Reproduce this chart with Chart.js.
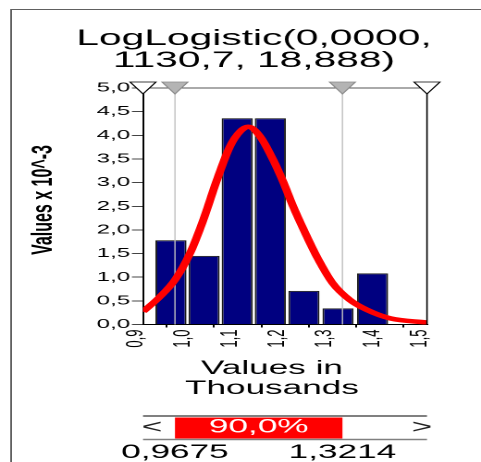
<!DOCTYPE html>
<html>
<head>
<meta charset="utf-8">
<script src="https://cdn.jsdelivr.net/npm/chart.js@4.4.1/dist/chart.umd.min.js"></script>
<style>
  html, body { margin: 0; padding: 0; background: #fff; overflow: hidden; }
  /* the picture is drawn narrow and stretched sideways, like the original */
  #wrap { width: 260px; height: 462px; transform: scaleX(1.85); transform-origin: 0 0; }
</style>
</head>
<body>
<div id="wrap"><canvas id="chart" width="260" height="462"></canvas></div>
<script>
// --- data ---
const titleLines = ['LogLogistic(0,0000,', '1130,7, 18,888)'];
const yAxisTitle = 'Values x 10^-3';
const xAxisTitle = ['Values in', 'Thousands'];
const xTickLabels = ['0,9', '1,0', '1,1', '1,2', '1,3', '1,4', '1,5'];
const yTickLabels = ['0,0', '0,5', '1,0', '1,5', '2,0', '2,5', '3,0', '3,5', '4,0', '4,5', '5,0'];

// histogram bins (centres in thousands) and their density
const binCenters = [0.959, 1.029, 1.099, 1.169, 1.240, 1.312, 1.385];
const binDensity = [1.78, 1.45, 4.36, 4.36, 0.71, 0.34, 1.08];

// fitted curve, points
const curveX = [0.900, 0.935, 0.968, 1.000, 1.027, 1.056, 1.084, 1.105, 1.122, 1.147,
                1.175, 1.196, 1.217, 1.242, 1.268, 1.301, 1.337, 1.373, 1.422, 1.500];
const curveY = [0.27, 0.58, 0.95, 1.52, 2.20, 3.05, 3.77, 4.08, 4.18, 3.98,
                3.48, 3.02, 2.50, 1.95, 1.42, 0.87, 0.52, 0.31, 0.13, 0.04];

// delimiters and the band between them
const markers = [0.9675, 1.3214];
const markerLabels = ['0,9675', '1,3214'];
const bandLabel = '90,0%';

const FONT = '"Liberation Sans", Arial, Helvetica, sans-serif';
Chart.defaults.font.family = FONT;

function tri(ctx, x, fill, stroke) {
  ctx.beginPath();
  ctx.moveTo(x - 7, 82);
  ctx.lineTo(x + 7, 82);
  ctx.lineTo(x, 94);
  ctx.closePath();
  ctx.fillStyle = fill;
  ctx.fill();
  ctx.strokeStyle = stroke;
  ctx.lineWidth = 0.8;
  ctx.stroke();
}

const decor = {
  id: 'decor',
  afterDatasetDraw(chart, args) {
    if (args.index !== 0) return;
    const { ctx, chartArea: a, scales: { x } } = chart;
    ctx.save();
    ctx.strokeStyle = '#c0c0c0';
    ctx.lineWidth = 0.7;
    markers.forEach(v => {
      const px = x.getPixelForValue(v);
      ctx.beginPath(); ctx.moveTo(px, a.top); ctx.lineTo(px, a.bottom); ctx.stroke();
    });
    ctx.restore();
  },
  afterDraw(chart) {
    const { ctx, chartArea: a, scales: { x } } = chart;
    ctx.save();

    // outer frame
    ctx.strokeStyle = '#606060';
    ctx.lineWidth = 1;
    ctx.beginPath(); ctx.moveTo(6, 462); ctx.lineTo(6, 9.5); ctx.lineTo(260, 9.5); ctx.stroke();

    // plot box: grey top, black right
    ctx.strokeStyle = '#555';
    ctx.beginPath(); ctx.moveTo(a.left, a.top); ctx.lineTo(a.right, a.top); ctx.stroke();
    ctx.strokeStyle = '#000';
    ctx.lineWidth = 0.8;
    ctx.beginPath(); ctx.moveTo(a.right, a.top); ctx.lineTo(a.right, a.bottom); ctx.stroke();

    // triangles on top
    tri(ctx, x.getPixelForValue(x.min), '#fff', '#000');
    tri(ctx, x.getPixelForValue(x.max), '#fff', '#000');
    markers.forEach(v => tri(ctx, x.getPixelForValue(v), '#b4b4b4', '#8c8c8c'));

    // title
    ctx.fillStyle = '#000';
    ctx.textAlign = 'center';
    ctx.textBaseline = 'alphabetic';
    ctx.font = '22px ' + FONT;
    ctx.fillText(titleLines[0], 137.3, 45);
    ctx.fillText(titleLines[1], 137.3, 67);

    // y title
    ctx.save();
    ctx.translate(23.5, 200);
    ctx.rotate(-Math.PI / 2);
    ctx.textBaseline = 'middle';
    ctx.font = 'bold 16px ' + FONT;
    ctx.fillText(yAxisTitle, 0, 0);
    ctx.restore();

    // x title
    ctx.font = '19px ' + FONT;
    ctx.fillText(xAxisTitle[0], 147, 374);
    ctx.fillText(xAxisTitle[1], 147, 394);

    // band below the chart
    const p0 = x.getPixelForValue(markers[0]);
    const p1 = x.getPixelForValue(markers[1]);
    ctx.strokeStyle = '#000';
    ctx.lineWidth = 1;
    ctx.beginPath(); ctx.moveTo(a.left, 416); ctx.lineTo(a.right, 416); ctx.stroke();
    ctx.fillStyle = '#ff0000';
    ctx.fillRect(p0, 417.5, p1 - p0, 21);
    ctx.strokeStyle = '#808080';
    ctx.lineWidth = 1.5;
    ctx.beginPath(); ctx.moveTo(a.left, 439.5); ctx.lineTo(a.right, 439.5); ctx.stroke();

    ctx.textBaseline = 'middle';
    ctx.fillStyle = '#fff';
    ctx.fillText(bandLabel, (p0 + p1) / 2, 427.5);
    ctx.fillStyle = '#222';
    ctx.fillText('<', 82.2, 428);
    ctx.fillText('>', 228.1, 428);

    ctx.textBaseline = 'alphabetic';
    ctx.fillStyle = '#000';
    ctx.fillText(markerLabels[0], p0, 458);
    ctx.fillText(markerLabels[1], p1, 458);

    ctx.restore();
  }
};

new Chart(document.getElementById('chart'), {
  type: 'bar',
  data: {
    datasets: [
      {
        type: 'bar',
        data: binCenters.map((c, i) => ({ x: c, y: binDensity[i] })),
        backgroundColor: '#000080',
        borderColor: '#1a1a1a',
        borderWidth: 1,
        barPercentage: 0.94,
        categoryPercentage: 1,
        order: 1
      },
      {
        type: 'line',
        data: curveX.map((c, i) => ({ x: c, y: curveY[i] })),
        borderColor: '#ff0000',
        borderWidth: 4.5,
        pointRadius: 0,
        fill: false,
        cubicInterpolationMode: 'monotone',
        order: 0
      }
    ]
  },
  options: {
    responsive: false,
    devicePixelRatio: 2,
    animation: false,
    layout: { padding: { top: 88, right: 29.2, left: 0, bottom: 0 } },
    plugins: { legend: { display: false }, tooltip: { enabled: false } },
    scales: {
      x: {
        type: 'linear',
        min: 0.9,
        max: 1.5,
        offset: false,
        afterFit: (s) => { s.height = 137.5; },
        grid: { drawOnChartArea: false, tickLength: 3, color: '#000' },
        border: { color: '#000', width: 1 },
        ticks: {
          stepSize: 0.1,
          autoSkip: false,
          minRotation: 90,
          maxRotation: 90,
          labelOffset: -4,
          padding: 2,
          color: '#000',
          font: { size: 13, lineHeight: 1 },
          callback: (v, i) => xTickLabels[i]
        }
      },
      y: {
        min: 0,
        max: 5,
        afterFit: (s) => { s.width = 77.3; },
        grid: { drawOnChartArea: false, tickLength: 6, color: '#444' },
        border: { color: '#000', width: 1 },
        ticks: {
          stepSize: 0.5,
          padding: 1,
          color: '#000',
          font: { size: 13 },
          callback: (v, i) => yTickLabels[i]
        }
      }
    }
  },
  plugins: [decor]
});
</script>
</body>
</html>
